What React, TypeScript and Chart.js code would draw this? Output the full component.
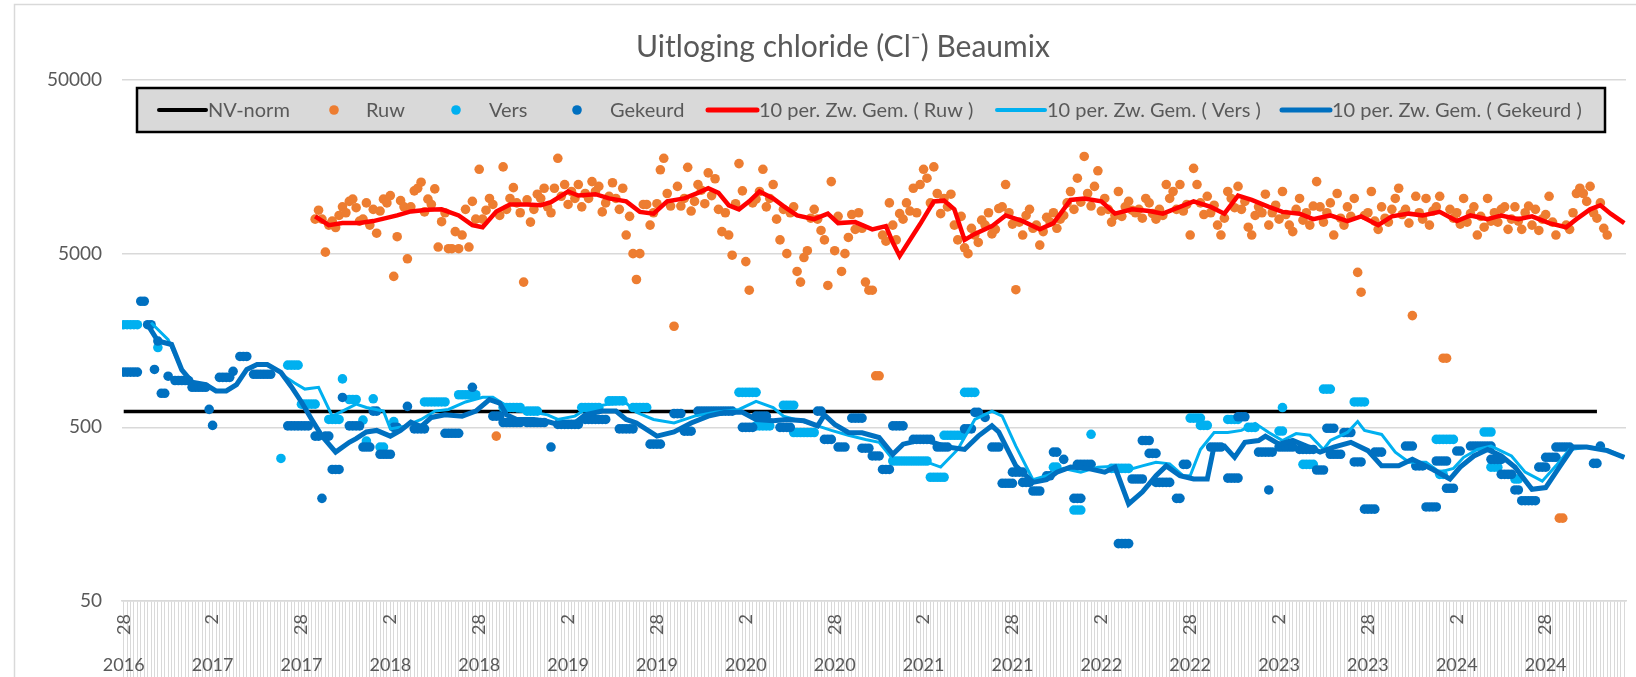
import React, { useEffect, useRef } from 'react';
import { Chart, registerables } from 'chart.js';

Chart.register(...registerables);

// ---------- axis / category definitions ----------
const categoryCount = 440; // weekly sample slots on the category axis
const labelEvery = 26;
const dayLabels = ['28', '2', '28', '2', '28', '2', '28', '2', '28', '2', '28', '2', '28', '2', '28', '2', '28'];
const yearLabels = ['2016', '2017', '2017', '2018', '2018', '2019', '2019', '2020', '2020', '2021', '2021', '2022', '2022', '2023', '2023', '2024', '2024'];
const yTicks = [50, 500, 5000, 50000];
const titleText = 'Uitloging chloride (Cl⁻) Beaumix';

// ---------- NV-norm ----------
const nvNormValue = 616;
const nvNormFrom = 0;
const nvNormTo = 431;

// ---------- Ruw (one value per slot, starting at slot ruwStart) ----------
const ruwStart = 56;
const ruwValues = [
  7900, 8900, 7900, 5100, 7300, 7700, 7070, 8300, 9300, 8600,
  10000, 10300, 9200, 7700, 7900, 9800, 7300, 9000, 6560, 8800,
  10300, 9800, 10800, 3700, 6260, 10100, 9300, 4670, 9300, 11500,
  11900, 12900, 8700, 10300, 9600, 11800, 5460, 7640, 8600, 5340,
  5340, 6700, 5340, 6400, 9000, 5460, 10000, 7900, 15300, 7900,
  8900, 10400, 9600, 445, 8300, 15800, 9000, 10400, 12000, 9800,
  8600, 3430, 10200, 7600, 9000, 11000, 10400, 11900, 9300, 8600,
  11900, 17700, 10700, 12500, 9600, 11400, 10400, 12500, 9300, 11100,
  10400, 13000, 11400, 12200, 8700, 9800, 10700, 12800, 10400, 9000,
  11900, 6400, 8200, 5000, 3550, 5000, 9600, 9600, 7300, 8600,
  9700, 15200, 17700, 11100, 9400, 1910, 12200, 9400, 10400, 15700,
  8800, 10000, 12500, 11600, 9700, 14600, 10800, 13500, 9000, 6700,
  8600, 6400, 4900, 9700, 16500, 11500, 4500, 3080, 9800, 10300,
  11400, 15300, 9300, 10400, 12500, 7900, 6000, 9000, 5000, 8600,
  9300, 3950, 3430, 4750, 5200, 8000, 9000, 7900, 6800, 6000,
  3280, 13000, 5200, 8200, 3950, 5000, 6200, 8400, 6900, 8600,
  7000, 3430, 3080, 3080, 990, 990, 6400, 5900, 9800, 7300,
  6000, 8500, 7900, 9800, 8800, 11900, 8600, 12500, 15300, 13600,
  9800, 15800, 11100, 8500, 10400, 9300, 11000, 7300, 6000, 8200,
  5400, 5000, 7000, 6400, 5800, 7800, 7300, 8600, 6500, 6900,
  9100, 9300, 12500, 8600, 7400, 3100, 7600, 6400, 8300, 9000,
  7000, 7300, 5600, 6700, 8100, 7600, 8600, 7000, 7900, 8300,
  9800, 11400, 9000, 13600, 9900, 18150, 11100, 9400, 12200, 15000,
  8800, 10400, 9000, 7600, 8300, 11400, 8200, 9300, 10000, 8900,
  8600, 9000, 8000, 10400, 9800, 8500, 7900, 9000, 8300, 12500,
  10400, 11400, 9000, 12500, 8800, 9600, 6400, 15500, 12500, 9800,
  8400, 10700, 8600, 9500, 7300, 6400, 8000, 11400, 10400, 9200,
  12200, 9000, 10000, 7100, 6400, 8300, 9300, 8600, 11000, 7300,
  8600, 9500, 7900, 11400, 8400, 7300, 6700, 9000, 10400, 7800,
  8600, 7300, 9400, 13000, 9300, 7600, 8600, 9800, 6400, 11100,
  8000, 7300, 9300, 8200, 10400, 3900, 3000, 8300, 8600, 11400,
  7700, 6900, 9300, 8000, 7600, 9000, 10400, 11900, 8400, 9000,
  7500, 2200, 10700, 8600, 7900, 10400, 7300, 8800, 9300, 10700,
  1250, 1250, 9000, 8000, 8600, 7400, 10400, 7600, 8500, 9300,
  6400, 8200, 7100, 10400, 7700, 8600, 7600, 9000, 9300, 6900,
  7900, 9300, 7700, 6900, 8600, 9400, 7300, 9000, 6800, 7900,
  8400, 10700, 7600, 6400, 150, 150, 7300, 6900, 8600, 11100,
  11900, 11100, 10000, 12200, 8600, 8000, 9800, 7000, 6400,
];

// ---------- Vers / Gekeurd: [first slot, last slot, value] (same value held over consecutive slots) ----------
const versRuns: [number, number, number][] = [
  [0, 4, 1950], [10, 10, 1440], [46, 46, 331], [48, 51, 1140], [52, 56, 680], [60, 63, 555], [64, 64, 950],
  [66, 68, 723], [70, 70, 550], [71, 71, 417], [73, 73, 730], [75, 76, 385], [79, 79, 540], [88, 94, 700],
  [98, 103, 770], [111, 116, 650], [118, 121, 620], [134, 139, 650], [142, 146, 710], [149, 153, 650],
  [180, 185, 795], [185, 189, 510], [193, 196, 670], [196, 202, 467], [225, 235, 320], [236, 240, 258],
  [240, 245, 450], [246, 249, 795], [272, 273, 295], [278, 280, 167], [283, 283, 456], [289, 294, 290],
  [312, 315, 565], [315, 317, 513], [323, 326, 555], [329, 331, 500], [338, 339, 476], [339, 339, 650],
  [345, 348, 306], [351, 353, 830], [360, 363, 700], [384, 389, 426], [385, 386, 268], [398, 400, 470],
  [400, 402, 295], [407, 408, 252],
];

const gekeurdRuns: [number, number, number][] = [
  [0, 4, 1040], [5, 6, 2660], [7, 8, 1950], [9, 9, 1077], [10, 10, 1570], [11, 12, 785], [13, 13, 985],
  [15, 19, 930], [20, 24, 850], [25, 25, 634], [26, 26, 513], [28, 31, 970], [32, 32, 1050], [34, 36, 1280],
  [38, 43, 1010], [48, 54, 510], [56, 57, 445], [58, 58, 195], [59, 60, 445], [61, 63, 286], [64, 64, 743],
  [66, 69, 510], [70, 72, 385], [73, 74, 620], [75, 78, 350], [79, 80, 500], [83, 83, 660], [85, 88, 490],
  [94, 98, 462], [102, 102, 850], [108, 110, 580], [111, 116, 533], [118, 123, 533], [125, 125, 385],
  [127, 133, 520], [135, 141, 555], [145, 149, 490], [154, 157, 400], [161, 163, 600], [164, 166, 475],
  [168, 178, 620], [181, 184, 500], [185, 188, 580], [192, 195, 500], [203, 204, 620], [205, 207, 426],
  [209, 211, 385], [213, 216, 565], [216, 218, 379], [219, 221, 342], [222, 224, 286], [225, 228, 510],
  [231, 236, 426], [238, 241, 385], [246, 248, 490], [249, 250, 610], [252, 252, 570], [254, 256, 385],
  [257, 260, 238], [260, 263, 276], [263, 265, 241], [266, 268, 215], [270, 271, 263], [272, 273, 360],
  [275, 275, 327], [278, 280, 195], [279, 283, 306], [291, 294, 107], [295, 298, 252], [298, 300, 420],
  [300, 302, 354], [302, 306, 241], [308, 309, 195], [310, 311, 306], [318, 321, 385], [323, 326, 255],
  [326, 328, 575], [332, 336, 360], [335, 335, 218], [338, 342, 385], [344, 348, 373], [349, 351, 284],
  [352, 354, 494], [353, 356, 350], [357, 359, 467], [360, 362, 316], [363, 366, 169], [366, 368, 360],
  [375, 377, 390], [378, 380, 300], [381, 384, 174], [384, 387, 320], [387, 389, 223], [390, 391, 365],
  [394, 400, 390], [400, 403, 327], [403, 406, 268], [407, 408, 218], [409, 413, 189], [414, 416, 295],
  [416, 419, 336], [419, 423, 385], [430, 431, 310], [432, 432, 390],
];

// ---------- 10-period moving averages: [slot, value] ----------
const maRuw: [number, number][] = [
  [56, 8200], [60, 7300], [64, 7500], [69, 7500], [73, 7700], [80, 8300], [84, 8750], [89, 8950], [93, 9000],
  [98, 8300], [102, 7300], [105, 7100], [109, 8750], [113, 9600], [118, 9600], [122, 9500], [125, 9900],
  [130, 11400], [133, 10800], [138, 11000], [142, 10400], [147, 10000], [151, 8700], [155, 8500], [159, 10000],
  [164, 10400], [168, 11200], [171, 11900], [174, 11200], [177, 9500], [180, 9000], [183, 10000], [186, 11400],
  [190, 10400], [193, 9400], [197, 8300], [202, 7900], [206, 8500], [209, 7500], [214, 7600], [219, 6900],
  [223, 7200], [225, 5800], [227, 4850], [230, 6000], [233, 7400], [237, 10000], [240, 10100], [243, 9000],
  [246, 6000], [249, 6500], [254, 7200], [258, 8300], [263, 7700], [268, 6900], [272, 7500], [277, 10200],
  [281, 10400], [286, 10000], [290, 8500], [295, 9000], [300, 8800], [304, 8500], [309, 9300], [313, 10000],
  [318, 9300], [322, 8500], [326, 10800], [330, 10200], [335, 9300], [339, 8700], [344, 8500], [348, 7900],
  [353, 8300], [358, 7700], [362, 8200], [367, 7300], [371, 8200], [376, 8500], [380, 8300], [385, 8700],
  [390, 7700], [394, 8300], [399, 7900], [403, 8300], [408, 7900], [412, 8200], [417, 7500], [422, 7100],
  [425, 7900], [429, 9000], [432, 9500], [435, 8500], [439, 7500],
];

const maVers: [number, number][] = [
  [8, 2000], [13, 1600], [17, 1070], [20, 910], [24, 880], [27, 810], [30, 810], [33, 880], [36, 1077],
  [39, 1150], [42, 1150], [46, 1035], [47, 985], [50, 900], [53, 830], [57, 850], [61, 580], [64, 620],
  [68, 680], [71, 650], [76, 620], [78, 490], [82, 505], [87, 555], [91, 620], [95, 634], [100, 700],
  [105, 745], [108, 745], [112, 665], [115, 620], [120, 610], [124, 590], [127, 555], [132, 580], [136, 650],
  [142, 680], [147, 690], [150, 610], [155, 555], [161, 530], [167, 580], [173, 610], [180, 634], [185, 705],
  [190, 650], [193, 580], [198, 545], [203, 510], [207, 480], [212, 450], [217, 426], [221, 410], [225, 327],
  [229, 327], [235, 315], [239, 295], [244, 373], [249, 555], [254, 620], [257, 580], [261, 390], [266, 250],
  [270, 263], [275, 290], [280, 276], [285, 295], [290, 298], [294, 285], [298, 300], [302, 315], [306, 308],
  [310, 263], [312, 263], [315, 373], [319, 467], [323, 467], [327, 480], [331, 527], [335, 467], [339, 420],
  [343, 460], [347, 450], [351, 373], [353, 420], [358, 467], [361, 540], [363, 480], [368, 455], [372, 360],
  [376, 315], [381, 315], [385, 276], [389, 290], [392, 336], [396, 373], [400, 390], [406, 342], [410, 276],
  [415, 245], [419, 300], [423, 373], [429, 385], [434, 373], [439, 336],
];

const maGekeurd: [number, number][] = [
  [7, 1950], [10, 1570], [14, 1500], [17, 1070], [20, 910], [24, 880], [27, 810], [30, 810], [33, 880],
  [36, 1077], [39, 1150], [42, 1150], [46, 1035], [49, 860], [52, 700], [55, 555], [58, 445], [62, 360],
  [66, 410], [68, 430], [71, 470], [74, 480], [78, 445], [81, 480], [84, 535], [87, 505], [90, 570], [94, 590],
  [99, 580], [103, 620], [107, 723], [110, 690], [112, 590], [115, 555], [120, 555], [124, 540], [127, 520],
  [132, 530], [135, 590], [140, 620], [144, 620], [147, 555], [150, 530], [156, 445], [161, 470], [166, 530],
  [171, 580], [176, 610], [181, 610], [185, 555], [190, 545], [194, 555], [199, 545], [203, 510], [205, 590],
  [208, 520], [212, 467], [216, 465], [221, 437], [225, 350], [228, 400], [234, 426], [241, 385], [246, 373],
  [250, 445], [254, 510], [256, 470], [261, 300], [266, 241], [270, 250], [273, 276], [277, 295], [282, 290],
  [287, 276], [290, 295], [294, 181], [298, 212], [302, 263], [305, 300], [309, 263], [313, 252], [317, 252],
  [319, 390], [322, 390], [325, 336], [328, 410], [332, 420], [334, 445], [338, 400], [342, 420], [346, 390],
  [350, 360], [354, 385], [359, 410], [364, 367], [368, 300], [373, 300], [377, 327], [383, 286], [388, 252],
  [391, 295], [395, 342], [399, 373], [403, 342], [407, 295], [412, 220], [416, 225], [420, 295], [424, 385],
  [428, 385], [434, 367], [439, 336],
];

// ---------- style ----------
const FONT = 'Lato, "Noto Sans", sans-serif';
const TEXT = '#595959';
const GRID = '#d9d9d9';
const C_RUW = '#ED7D31';
const C_VERS = '#00B0F0';
const C_GEK = '#0070C0';
const C_RED = '#FF0000';

type Pt = { x: number; y: number };
const fromPairs = (pairs: [number, number][]): Pt[] => pairs.map(([x, y]) => ({ x, y }));
const fromRuns = (runs: [number, number, number][]): Pt[] => {
  const out: Pt[] = [];
  runs.forEach(([a, b, v]) => {
    for (let i = a; i <= b; i++) out.push({ x: i, y: v });
  });
  return out;
};
const ruwPoints: Pt[] = ruwValues.map((v, k) => ({ x: ruwStart + k, y: v }));

// legend geometry (pixels)
const legendBox = { left: 137, top: 88, right: 1605, bottom: 132 };
const legendItems = [
  { ds: 0, kind: 'line', lw: 4, x0: 159, x1: 206, tx: 208 },
  { ds: 1, kind: 'dot', x0: 334, tx: 366 },
  { ds: 2, kind: 'dot', x0: 456, tx: 489 },
  { ds: 3, kind: 'dot', x0: 577, tx: 610 },
  { ds: 4, kind: 'line', lw: 5, x0: 708, x1: 757, tx: 759 },
  { ds: 5, kind: 'line', lw: 4, x0: 997, x1: 1045, tx: 1047 },
  { ds: 6, kind: 'line', lw: 5, x0: 1282, x1: 1330, tx: 1332 },
];

const decorPlugin = {
  id: 'decor',
  afterDraw(chart: any) {
    const ctx: CanvasRenderingContext2D = chart.ctx;
    const xs = chart.scales.x;
    ctx.save();
    // title
    ctx.font = `30px ${FONT}`;
    ctx.fillStyle = TEXT;
    ctx.textAlign = 'center';
    ctx.textBaseline = 'alphabetic';
    ctx.fillText(titleText, 843, 57);

    // year labels (second row of the category axis)
    ctx.font = `18px ${FONT}`;
    ctx.textBaseline = 'middle';
    yearLabels.forEach((y, k) => ctx.fillText(y, xs.getPixelForValue(k * labelEvery), 665));

    // legend box
    const b = legendBox;
    ctx.fillStyle = '#d9d9d9';
    ctx.fillRect(b.left, b.top, b.right - b.left, b.bottom - b.top);
    ctx.strokeStyle = '#000000';
    ctx.lineWidth = 2.5;
    ctx.strokeRect(b.left, b.top, b.right - b.left, b.bottom - b.top);
    const cy = (b.top + b.bottom) / 2;
    ctx.font = `20px ${FONT}`;
    ctx.textAlign = 'left';
    ctx.textBaseline = 'middle';
    legendItems.forEach((it) => {
      const ds = chart.data.datasets[it.ds];
      if (it.kind === 'line') {
        ctx.strokeStyle = ds.borderColor;
        ctx.lineWidth = it.lw as number;
        ctx.lineCap = 'round';
        ctx.beginPath();
        ctx.moveTo(it.x0, cy);
        ctx.lineTo(it.x1 as number, cy);
        ctx.stroke();
      } else {
        ctx.fillStyle = ds.pointBackgroundColor;
        ctx.beginPath();
        ctx.arc(it.x0, cy, 4.8, 0, Math.PI * 2);
        ctx.fill();
      }
      ctx.fillStyle = TEXT;
      ctx.fillText(ds.label, it.tx, cy + 1);
    });

    // outer chart frame
    ctx.strokeStyle = GRID;
    ctx.lineWidth = 1.5;
    ctx.strokeRect(14.5, 4.5, 1700, 800);
    ctx.restore();
  },
};

export default function App() {
  const ref = useRef<HTMLCanvasElement>(null);
  useEffect(() => {
    let chart: Chart | null = null;
    let cancelled = false;
    const make = () => {
      if (cancelled || !ref.current) return;
      const scatterBase = { showLine: false, pointRadius: 4.8, pointBorderWidth: 0, pointHoverRadius: 4.8 };
      const lineBase = { pointRadius: 0, pointHoverRadius: 0, tension: 0, fill: false };
      chart = new Chart(ref.current, {
        type: 'line',
        data: {
          datasets: [
            { ...lineBase, label: 'NV-norm', data: [{ x: nvNormFrom, y: nvNormValue }, { x: nvNormTo, y: nvNormValue }], borderColor: '#000000', borderWidth: 3.5, order: 6 },
            { ...scatterBase, label: 'Ruw', data: ruwPoints, pointBackgroundColor: C_RUW, backgroundColor: C_RUW, borderColor: C_RUW, order: 5 },
            { ...scatterBase, label: 'Vers', data: fromRuns(versRuns), pointBackgroundColor: C_VERS, backgroundColor: C_VERS, borderColor: C_VERS, order: 4 },
            { ...scatterBase, label: 'Gekeurd', data: fromRuns(gekeurdRuns), pointBackgroundColor: C_GEK, backgroundColor: C_GEK, borderColor: C_GEK, order: 3 },
            { ...lineBase, label: '10 per. Zw. Gem. ( Ruw )', data: fromPairs(maRuw), borderColor: C_RED, borderWidth: 4.5, order: 2 },
            { ...lineBase, label: '10 per. Zw. Gem. ( Vers )', data: fromPairs(maVers), borderColor: C_VERS, borderWidth: 3, order: 1 },
            { ...lineBase, label: '10 per. Zw. Gem. ( Gekeurd )', data: fromPairs(maGekeurd), borderColor: C_GEK, borderWidth: 5, order: 0 },
          ] as any,
        },
        options: {
          responsive: false,
          animation: false,
          events: [],
          layout: { padding: { left: 30, right: 10, top: 80, bottom: 0 } },
          plugins: {
            legend: { display: false },
            tooltip: { enabled: false },
            title: { display: false },
          },
          scales: {
            x: {
              type: 'linear',
              min: -0.5,
              max: categoryCount - 0.5,
              afterBuildTicks: (scale: any) => {
                const t = [];
                for (let i = 0; i < categoryCount; i++) t.push({ value: i });
                scale.ticks = t;
              },
              afterFit: (scale: any) => { scale.height = 76; },
              ticks: {
                autoSkip: false,
                minRotation: 90,
                maxRotation: 90,
                padding: -63,
                color: TEXT,
                font: { family: FONT, size: 18 },
                callback: (v: any) => (Number(v) % labelEvery === 0 ? dayLabels[Number(v) / labelEvery] : ''),
              },
              grid: { drawOnChartArea: false, drawTicks: true, tickLength: 76, color: GRID, lineWidth: 1 },
              border: { display: true, color: GRID, width: 1.5 },
            },
            y: {
              type: 'logarithmic',
              min: 50,
              max: 50000,
              afterBuildTicks: (scale: any) => { scale.ticks = yTicks.map((v) => ({ value: v })); },
              afterFit: (scale: any) => { scale.width = 92; },
              ticks: {
                color: TEXT,
                padding: 20,
                font: { family: FONT, size: 19 },
                callback: (v: any) => String(v),
              },
              grid: { color: GRID, lineWidth: 1.5, drawTicks: false },
              border: { display: false },
            },
          },
        },
        plugins: [decorPlugin],
      } as any);
    };
    if ((document as any).fonts && (document as any).fonts.load) {
      (document as any).fonts.load(`18px Lato`).then(make, make);
    } else {
      make();
    }
    return () => {
      cancelled = true;
      if (chart) chart.destroy();
    };
  }, []);

  return (
    <div style={{ position: 'fixed', left: 0, top: 0, width: 1636, height: 677, background: '#ffffff' }}>
      <canvas ref={ref} width={1636} height={677} style={{ display: 'block', width: 1636, height: 677 }} />
    </div>
  );
}
